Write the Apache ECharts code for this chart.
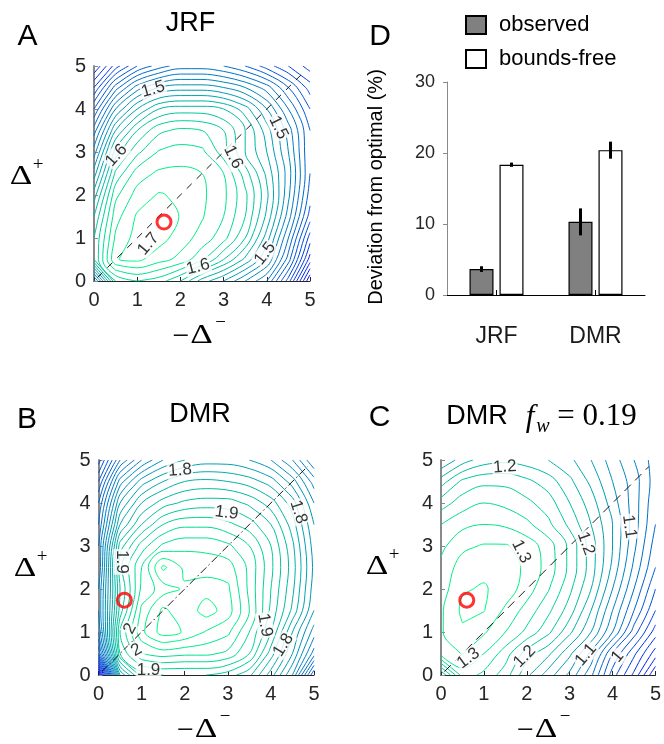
<!DOCTYPE html>
<html>
<head>
<meta charset="utf-8">
<script src="https://cdn.jsdelivr.net/npm/echarts@6/dist/echarts.min.js"></script>
<style>
html,body{margin:0;padding:0;background:#fff;}
#chart{width:664px;height:744px;}
</style>
</head>
<body>
<div id="chart"></div>
<script>
// ---------------- DATA ----------------
// Panel D (bar chart)
const categories = ['JRF', 'DMR'];
const observed = [3.65, 10.3];
const observedErr = [0.4, 1.9];
const boundsFree = [18.35, 20.4];
const boundsFreeErr = [0.3, 1.2];

// Contour surfaces, sampled every 0.5 on both axes (0..5).
// Rows run from y = 5 (first row) down to y = 0 (last row); columns x = 0..5.
const jrfSurface = [
  [1.26, 1.33, 1.38, 1.41, 1.43, 1.43, 1.42, 1.40, 1.37, 1.34, 1.31],
  [1.32, 1.41, 1.47, 1.50, 1.51, 1.51, 1.50, 1.48, 1.45, 1.40, 1.35],
  [1.38, 1.48, 1.54, 1.58, 1.59, 1.59, 1.58, 1.55, 1.50, 1.44, 1.38],
  [1.43, 1.54, 1.60, 1.635, 1.645, 1.64, 1.62, 1.58, 1.53, 1.47, 1.40],
  [1.47, 1.59, 1.635, 1.662, 1.668, 1.665, 1.63, 1.58, 1.54, 1.48, 1.40],
  [1.51, 1.625, 1.67, 1.684, 1.686, 1.68, 1.66, 1.61, 1.555, 1.49, 1.40],
  [1.55, 1.655, 1.688, 1.702, 1.696, 1.684, 1.665, 1.625, 1.565, 1.485, 1.39],
  [1.58, 1.672, 1.703, 1.713, 1.699, 1.682, 1.66, 1.62, 1.555, 1.47, 1.37],
  [1.60, 1.684, 1.708, 1.709, 1.69, 1.672, 1.648, 1.60, 1.53, 1.44, 1.33],
  [1.60, 1.699, 1.705, 1.688, 1.674, 1.645, 1.60, 1.555, 1.50, 1.41, 1.29],
  [1.45, 1.62, 1.64, 1.63, 1.60, 1.55, 1.52, 1.48, 1.44, 1.35, 1.22]
];
const dmrSurface = [
  [1.55, 1.66, 1.72, 1.76, 1.78, 1.79, 1.79, 1.78, 1.76, 1.72, 1.66],
  [1.60, 1.73, 1.79, 1.82, 1.84, 1.845, 1.84, 1.83, 1.81, 1.77, 1.71],
  [1.64, 1.78, 1.84, 1.87, 1.885, 1.89, 1.89, 1.875, 1.85, 1.81, 1.74],
  [1.66, 1.82, 1.88, 1.92, 1.935, 1.935, 1.925, 1.91, 1.88, 1.83, 1.76],
  [1.68, 1.87, 1.93, 1.965, 1.975, 1.975, 1.965, 1.94, 1.90, 1.845, 1.77],
  [1.68, 1.895, 1.96, 2.025, 1.995, 1.99, 1.99, 1.955, 1.905, 1.85, 1.775],
  [1.70, 1.88, 1.965, 1.99, 2.003, 2.012, 2.004, 1.955, 1.90, 1.845, 1.77],
  [1.70, 1.89, 1.985, 2.025, 2.005, 2.03, 2.01, 1.96, 1.895, 1.835, 1.76],
  [1.68, 1.92, 1.995, 2.03, 2.018, 1.998, 1.985, 1.94, 1.88, 1.80, 1.73],
  [1.62, 1.90, 1.96, 1.97, 1.965, 1.965, 1.955, 1.92, 1.85, 1.78, 1.69],
  [1.40, 1.80, 1.89, 1.90, 1.90, 1.90, 1.89, 1.865, 1.81, 1.74, 1.60]
];
const dmrFwSurface = [
  [1.14, 1.17, 1.19, 1.195, 1.19, 1.18, 1.165, 1.14, 1.11, 1.08, 1.05],
  [1.19, 1.225, 1.235, 1.235, 1.225, 1.21, 1.185, 1.155, 1.12, 1.09, 1.05],
  [1.23, 1.25, 1.26, 1.255, 1.245, 1.23, 1.20, 1.17, 1.13, 1.09, 1.045],
  [1.26, 1.275, 1.28, 1.277, 1.265, 1.245, 1.215, 1.18, 1.14, 1.09, 1.04],
  [1.275, 1.295, 1.302, 1.302, 1.292, 1.27, 1.235, 1.19, 1.14, 1.085, 1.03],
  [1.285, 1.31, 1.315, 1.31, 1.296, 1.272, 1.235, 1.19, 1.135, 1.075, 1.02],
  [1.29, 1.318, 1.322, 1.312, 1.29, 1.262, 1.225, 1.18, 1.12, 1.06, 1.00],
  [1.297, 1.324, 1.321, 1.296, 1.272, 1.245, 1.21, 1.16, 1.10, 1.04, 0.98],
  [1.298, 1.317, 1.303, 1.28, 1.255, 1.225, 1.185, 1.14, 1.08, 1.01, 0.95],
  [1.29, 1.301, 1.28, 1.25, 1.21, 1.185, 1.145, 1.095, 1.02, 0.965, 0.91],
  [1.18, 1.27, 1.255, 1.23, 1.185, 1.15, 1.115, 1.065, 0.99, 0.935, 0.86]
];

// Contour levels
const jrfLevels = [1.24,1.26,1.28,1.30,1.32,1.34,1.36,1.38,1.40,1.42,1.44,1.46,1.48,1.50,1.52,1.54,1.56,1.58,1.60,1.62,1.64,1.66,1.68,1.70];
const dmrLevels = [1.42,1.44,1.46,1.48,1.50,1.52,1.54,1.56,1.58,1.60,1.62,1.64,1.66,1.68,1.70,1.72,1.74,1.76,1.78,1.80,1.82,1.84,1.86,1.88,1.90,1.92,1.94,1.96,1.98,2.00,2.02];
const dmrFwLevels = [0.88,0.90,0.92,0.94,0.96,0.98,1.00,1.02,1.04,1.06,1.08,1.10,1.12,1.14,1.16,1.18,1.20,1.22,1.24,1.26,1.28,1.30,1.32];

// Contour labels [x, y, text]
const jrfLabels = [[1.37,4.46,'1.5'],[0.52,2.92,'1.6'],[3.22,2.88,'1.6'],[4.27,3.57,'1.5'],[1.26,0.86,'1.7'],[2.41,0.33,'1.6'],[3.96,0.64,'1.5']];
const dmrLabels = [[1.89,4.76,'1.8'],[4.64,3.79,'1.8'],[2.97,3.77,'1.9'],[0.54,2.63,'1.9'],[3.86,1.16,'1.9'],[4.29,0.70,'1.8'],[0.73,1.08,'2'],[0.88,0.58,'2'],[1.16,0.10,'1.9']];
const dmrFwLabels = [[1.49,4.84,'1.2'],[1.87,2.87,'1.3'],[0.64,0.39,'1.3'],[3.38,3.06,'1.2'],[1.95,0.43,'1.2'],[4.39,3.45,'1.1'],[3.38,0.47,'1.1'],[4.12,0.43,'1']];

// Optimum markers
const jrfOptimum = [1.62, 1.37];
const dmrOptimum = [0.60, 1.74];
const dmrFwOptimum = [0.60, 1.74];
const diagonalLine = [[0.08, 0.08], [4.85, 4.85]];
const axisTicks = [0, 1, 2, 3, 4, 5];

// ---------------- STYLE ----------------
const jrfLabelAngles = [16, 48, -64, -64, 50, 14, 52];
const dmrLabelAngles = [4, -72, -8, -90, -80, 58, 62, 30, 0];
const dmrFwLabelAngles = [4, -64, 36, -70, 46, -82, 50, 50];
const SANS = 'Liberation Sans';
const SERIF = 'Liberation Serif';

// ---------------- CONTOURING ----------------
function marching(rows, level) {
  const ny = rows.length, nx = rows[0].length;
  const dx = 5 / (nx - 1), dy = 5 / (ny - 1);
  const z = (i, j) => rows[ny - 1 - j][i];
  const segs = [];
  const f = (v1, v2) => (level - v1) / (v2 - v1);
  for (let j = 0; j < ny - 1; j++) {
    for (let i = 0; i < nx - 1; i++) {
      const a = z(i, j), b = z(i + 1, j), c = z(i + 1, j + 1), d = z(i, j + 1);
      const cr = {};
      const list = [];
      if ((a >= level) !== (b >= level)) { cr.B = {k: 'h' + i + '_' + j, p: [(i + f(a, b)) * dx, j * dy]}; list.push(cr.B); }
      if ((b >= level) !== (c >= level)) { cr.R = {k: 'v' + (i + 1) + '_' + j, p: [(i + 1) * dx, (j + f(b, c)) * dy]}; list.push(cr.R); }
      if ((d >= level) !== (c >= level)) { cr.T = {k: 'h' + i + '_' + (j + 1), p: [(i + f(d, c)) * dx, (j + 1) * dy]}; list.push(cr.T); }
      if ((a >= level) !== (d >= level)) { cr.L = {k: 'v' + i + '_' + j, p: [i * dx, (j + f(a, d)) * dy]}; list.push(cr.L); }
      const add = (u, v) => segs.push({p: [u.p, v.p], k: [u.k, v.k]});
      if (list.length === 2) add(list[0], list[1]);
      else if (list.length === 4) {
        const m = (a + b + c + d) / 4;
        if ((m >= level) === (a >= level)) { add(cr.B, cr.R); add(cr.T, cr.L); }
        else { add(cr.B, cr.L); add(cr.T, cr.R); }
      }
    }
  }
  return segs;
}
function chain(segs) {
  const map = new Map();
  segs.forEach((s, idx) => s.k.forEach(k => { if (!map.has(k)) map.set(k, []); map.get(k).push(idx); }));
  const used = segs.map(() => false);
  const lines = [];
  function walk(start, e0) {
    const pts = [segs[start].p[e0]];
    let idx = start, e = e0;
    while (idx !== -1 && !used[idx]) {
      used[idx] = true;
      const oe = 1 - e;
      pts.push(segs[idx].p[oe]);
      const k = segs[idx].k[oe];
      const cand = map.get(k).filter(t => !used[t]);
      if (!cand.length) break;
      idx = cand[0];
      e = segs[idx].k[0] === k ? 0 : 1;
    }
    return pts;
  }
  segs.forEach((s, idx) => {
    for (let e = 0; e < 2; e++) {
      if (!used[idx] && map.get(s.k[e]).length === 1) lines.push(walk(idx, e));
    }
  });
  segs.forEach((s, idx) => { if (!used[idx]) lines.push(walk(idx, 0)); });
  return lines;
}
function winter(t) {
  t = Math.max(0, Math.min(1, t));
  return 'rgb(0,' + Math.round(255 * t) + ',' + Math.round(255 * (1 - 0.5 * t)) + ')';
}

function contourPanel(g, surface, levels, labels, angles, optimum, dash) {
  const flat = surface.flat();
  const zmin = Math.min(...flat), zmax = Math.max(...flat);
  const out = [];
  levels.forEach(L => {
    const col = winter((L - zmin) / (zmax - zmin));
    chain(marching(surface, L)).forEach(pts => {
      out.push({
        type: 'line', xAxisIndex: g, yAxisIndex: g, data: pts,
        symbol: 'none', showSymbol: false, smooth: 0.35, silent: true,
        lineStyle: {color: col, width: 1}, z: 2, animation: false
      });
    });
  });
  out.push({
    type: 'line', xAxisIndex: g, yAxisIndex: g, data: diagonalLine,
    symbol: 'none', silent: true, z: 3, animation: false,
    lineStyle: {color: '#000', width: 0.9, type: dash}
  });
  out.push({
    type: 'scatter', xAxisIndex: g, yAxisIndex: g, silent: true, z: 5, animation: false,
    symbolSize: 1, itemStyle: {color: 'rgba(0,0,0,0)'},
    label: {show: true, position: 'inside', fontSize: 17, fontFamily: SANS, color: '#000',
            backgroundColor: '#fff', padding: [0, 1]},
    data: labels.map((l, i) => ({value: [l[0], l[1]],
      label: {formatter: l[2], rotate: angles[i], fontSize: 17}}))
  });
  out.push({
    type: 'scatter', xAxisIndex: g, yAxisIndex: g, silent: true, z: 6, animation: false,
    symbol: 'circle', symbolSize: 14,
    itemStyle: {color: 'rgba(0,0,0,0)', borderColor: '#ff0000', borderWidth: 3},
    data: [optimum]
  });
  return out;
}

// ---------------- AXES ----------------
const cGrids = [
  {left: 94, top: 66, width: 216, height: 215},
  {left: 98.5, top: 460, width: 215.5, height: 215},
  {left: 441, top: 460, width: 216, height: 215}
];
const xAxes = [], yAxes = [];
cGrids.forEach((g, i) => {
  xAxes.push({
    type: 'value', gridIndex: i, min: axisTicks[0], max: axisTicks[axisTicks.length - 1], interval: 1,
    axisLine: {show: true, onZero: false, lineStyle: {color: '#262626', width: 1}},
    axisTick: {show: true, inside: true, length: 4, lineStyle: {color: '#262626'}},
    axisLabel: {fontSize: 20, color: '#262626', fontFamily: SANS, margin: 9},
    splitLine: {show: false}
  });
  yAxes.push({
    type: 'value', gridIndex: i, min: axisTicks[0], max: axisTicks[axisTicks.length - 1], interval: 1,
    axisLine: {show: true, onZero: false, lineStyle: {color: '#8a8a8a', width: 2}},
    axisTick: {show: true, inside: true, length: 4, lineStyle: {color: '#8a8a8a'}},
    axisLabel: {fontSize: 20, color: '#262626', fontFamily: SANS, margin: 8},
    splitLine: {show: false}
  });
});
xAxes.push({
  type: 'category', gridIndex: 3, data: categories,
  axisLine: {show: true, lineStyle: {color: '#000', width: 1}},
  axisTick: {show: true, inside: true, alignWithLabel: true, length: 5, lineStyle: {color: '#000'}},
  axisLabel: {fontSize: 23, color: '#1a1a1a', fontFamily: SANS, margin: 30}
});
yAxes.push({
  type: 'value', gridIndex: 3, min: 0, max: 30, interval: 10,
  axisLine: {show: true, lineStyle: {color: '#8a8a8a', width: 1}},
  axisTick: {show: true, inside: false, length: 4, lineStyle: {color: '#8a8a8a'}},
  axisLabel: {fontSize: 18, color: '#262626', fontFamily: SANS, margin: 12},
  splitLine: {show: false}
});

// ---------------- SERIES ----------------
let series = [];
series = series.concat(contourPanel(0, jrfSurface, jrfLevels, jrfLabels, jrfLabelAngles, jrfOptimum, [7, 7]));
series = series.concat(contourPanel(1, dmrSurface, dmrLevels, dmrLabels, dmrLabelAngles, dmrOptimum, [8, 3, 1.5, 3]));
series = series.concat(contourPanel(2, dmrFwSurface, dmrFwLevels, dmrFwLabels, dmrFwLabelAngles, dmrFwOptimum, [9, 6]));

series.push({
  name: 'observed', type: 'bar', xAxisIndex: 3, yAxisIndex: 3, data: observed,
  barWidth: 24, barGap: '25%', animation: false,
  itemStyle: {color: '#808080', borderColor: '#000', borderWidth: 1.2}
});
series.push({
  name: 'bounds-free', type: 'bar', xAxisIndex: 3, yAxisIndex: 3, data: boundsFree,
  barWidth: 24, barGap: '25%', animation: false,
  itemStyle: {color: '#ffffff', borderColor: '#000', borderWidth: 1.2}
});
function errSeries(vals, errs, off) {
  return {
    type: 'custom', xAxisIndex: 3, yAxisIndex: 3, z: 4, silent: true, animation: false,
    data: vals.map((v, i) => [i, v - errs[i], v + errs[i]]),
    renderItem: (params, api) => {
      const p1 = api.coord([api.value(0), api.value(1)]);
      const p2 = api.coord([api.value(0), api.value(2)]);
      return {type: 'line', shape: {x1: p1[0] + off, y1: p1[1], x2: p2[0] + off, y2: p2[1]},
              style: {stroke: '#000', lineWidth: 3}};
    }
  };
}
series.push(errSeries(observed, observedErr, -15));
series.push(errSeries(boundsFree, boundsFreeErr, 15));

// ---------------- TEXT ----------------
function txt(text, x, y, size, style, extra) {
  return Object.assign({
    type: 'text', x: x, y: y, silent: true, z: 10,
    style: Object.assign({text: text, fontSize: size, fontFamily: SANS, fill: '#000',
      align: 'center', verticalAlign: 'middle', textAlign: 'center', textVerticalAlign: 'middle'}, style || {})
  }, extra || {});
}
const D_STYLE = {fontFamily: SERIF};
const D_EXTRA = {scaleX: 1.3};
const graphics = [
  txt('A', 27.5, 37, 30), txt('B', 27, 420, 30), txt('C', 379.5, 418, 30), txt('D', 380, 37, 30),
  txt('JRF', 190.5, 24, 27), txt('DMR', 200, 415, 27), txt('DMR', 477, 417, 27),
  txt('f', 530, 418, 31, {fontFamily: SERIF, fontStyle: 'italic'}),
  txt('w', 543, 427, 20, {fontFamily: SERIF, fontStyle: 'italic'}),
  txt('= 0.19', 597, 417, 31, {fontFamily: SERIF}),
  // y-axis names  Δ+
  txt('\u0394', 21, 177, 27, D_STYLE, D_EXTRA), txt('+', 38, 165, 19, D_STYLE),
  txt('\u0394', 25, 569, 27, D_STYLE, D_EXTRA), txt('+', 42, 557, 19, D_STYLE),
  txt('\u0394', 377, 567, 27, D_STYLE, D_EXTRA), txt('+', 394, 555, 19, D_STYLE),
  // x-axis names  −Δ−
  txt('\u2212', 181, 337, 30, D_STYLE), txt('\u0394', 201.5, 336, 27, D_STYLE, D_EXTRA), txt('\u2212', 220.5, 323, 19, D_STYLE),
  txt('\u2212', 185.5, 731, 30, D_STYLE), txt('\u0394', 206, 730, 27, D_STYLE, D_EXTRA), txt('\u2212', 225, 717, 19, D_STYLE),
  txt('\u2212', 525.5, 731, 30, D_STYLE), txt('\u0394', 546, 730, 27, D_STYLE, D_EXTRA), txt('\u2212', 565, 717, 19, D_STYLE),
  // bar chart y name
  txt('Deviation from optimal (%)', 376, 187, 20, null, {rotation: Math.PI / 2})
];

const chart = echarts.init(document.getElementById('chart'), null, {renderer: 'canvas'});
chart.setOption({
  backgroundColor: '#ffffff',
  animation: false,
  grid: cGrids.concat([{left: 447, top: 82, width: 198, height: 213}]),
  xAxis: xAxes,
  yAxis: yAxes,
  legend: {
    left: 465, top: 14, orient: 'vertical', padding: 0,
    itemWidth: 20, itemHeight: 18, itemGap: 12,
    textStyle: {fontSize: 22, color: '#000', fontFamily: SANS, padding: [0, 0, 0, 8]},
    data: [{name: 'observed', icon: 'rect'}, {name: 'bounds-free', icon: 'rect'}],
    selectedMode: false
  },
  series: series,
  graphic: graphics
});
</script>
</body>
</html>
